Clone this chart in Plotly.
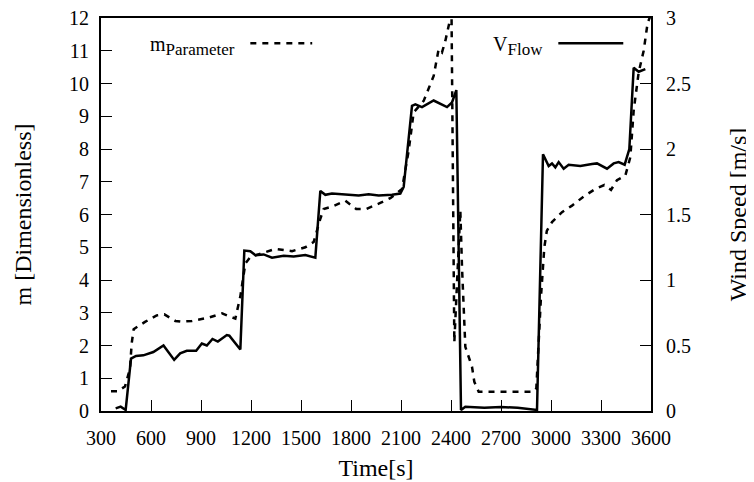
#
# m parameter and flow speed over time
#
import plotly.graph_objects as go

# m_Parameter (left axis, dimensionless)
t_m = [360, 400, 444, 474, 484, 496, 564, 634, 680, 706, 746, 776, 846, 946, 1026, 1106,
       1136, 1166, 1196, 1346, 1446, 1526, 1576, 1616, 1636, 1686, 1766, 1831, 1892, 1966,
       2036, 2106, 2146, 2176, 2236, 2296, 2326, 2346, 2366, 2392, 2400, 2420, 2456, 2466,
       2476, 2486, 2526, 2540, 2566, 2894, 2912, 2940, 2960, 2975, 3006, 3066, 3126, 3196,
       3266, 3320, 3360, 3396, 3446, 3476, 3496, 3526, 3556, 3580, 3600]
m_param = [0.6, 0.6, 0.75, 1.3, 2.06, 2.5, 2.72, 2.92, 2.95, 2.87, 2.75, 2.73, 2.75, 2.85,
           2.98, 2.82, 3.5, 4.5, 4.7, 4.95, 4.88, 5.0, 5.16, 5.87, 6.17, 6.24, 6.42, 6.17,
           6.17, 6.33, 6.5, 6.78, 7.95, 9.12, 9.47, 10.23, 11.05, 10.95, 11.3, 11.9, 14.0,
           2.1, 6.12, 4.4, 2.87, 1.96, 1.35, 0.89, 0.59, 0.59, 0.69, 3.5, 5.0, 5.5, 5.77,
           6.07, 6.27, 6.55, 6.78, 6.9, 6.75, 7.05, 7.19, 7.75, 9.17, 10.34, 11.0, 11.86, 12.1]

# V_Flow (right axis, m/s)
t_v = [388, 418, 448, 480, 510, 554, 614, 675, 739, 775, 815, 871, 905, 935, 969, 1001,
       1055, 1070, 1136, 1160, 1196, 1226, 1276, 1326, 1396, 1456, 1526, 1586, 1616, 1646,
       1686, 1766, 1846, 1906, 1966, 2046, 2096, 2116, 2166, 2186, 2226, 2296, 2376, 2406,
       2432, 2460, 2486, 2600, 2700, 2800, 2916, 2952, 2986, 3006, 3026, 3046, 3076, 3106,
       3176, 3246, 3276, 3336, 3376, 3406, 3442, 3470, 3496, 3526, 3566]
v_flow = [0.02, 0.033, 0.008, 0.40, 0.42, 0.425, 0.45, 0.50, 0.39, 0.44, 0.46, 0.46, 0.515,
          0.50, 0.55, 0.53, 0.58, 0.575, 0.47, 1.225, 1.22, 1.19, 1.195, 1.17, 1.185, 1.18,
          1.19, 1.17, 1.68, 1.65, 1.66, 1.65, 1.645, 1.655, 1.645, 1.65, 1.66, 1.71, 2.33,
          2.34, 2.32, 2.37, 2.32, 2.355, 2.45, 0.008, 0.033, 0.025, 0.03, 0.025, 0.008, 1.96,
          1.87, 1.89, 1.86, 1.90, 1.85, 1.88, 1.87, 1.885, 1.89, 1.85, 1.89, 1.90, 1.88, 2.0,
          2.62, 2.59, 2.61]

x_ticks = [300, 600, 900, 1200, 1500, 1800, 2100, 2400, 2700, 3000, 3300, 3600]

font = "Liberation Serif, Times New Roman, Times, serif"

fig = go.Figure()
fig.add_trace(go.Scatter(x=t_m, y=m_param, mode="lines", yaxis="y",
                         line=dict(color="black", width=2.5, dash="6px,6px")))
fig.add_trace(go.Scatter(x=t_v, y=v_flow, mode="lines", yaxis="y2",
                         line=dict(color="black", width=2.5)))

axis_common = dict(showline=True, linecolor="black", linewidth=2, ticks="inside",
                   ticklen=11, tickwidth=1, tickcolor="black", showgrid=False,
                   zeroline=False, automargin=False, ticklabeloverflow="allow",
                   tickfont=dict(family=font, size=20, color="black"))

# page body adds an 8px margin, so the figure is 8px smaller on each side
fig.update_layout(
    width=746, height=474,
    margin=dict(l=93, r=103, t=10, b=71),
    paper_bgcolor="white", plot_bgcolor="white",
    showlegend=False,
    font=dict(family=font, size=20, color="black"),
    xaxis=dict(range=[300, 3600], tickvals=x_ticks, mirror=True, ticklabelstandoff=8,
               title=dict(text="Time[s]", standoff=11), **axis_common),
    yaxis=dict(range=[0, 12], dtick=1, ticklabelstandoff=6,
               title=dict(text="m [Dimensionless]", standoff=31), **axis_common),
    yaxis2=dict(range=[0, 3], dtick=0.5, overlaying="y", side="right", ticklabelstandoff=9,
                title=dict(text="Wind Speed [m/s]", standoff=39), **axis_common),
)

# key
sub = "<sub><span style='font-size:17px'>%s</span></sub>"
fig.add_annotation(x=0.248, y=0.93, xref="paper", yref="paper", xanchor="right",
                   yanchor="middle", showarrow=False, text="m" + sub % "Parameter",
                   font=dict(family=font, size=20))
fig.add_shape(type="line", xref="paper", yref="paper", x0=0.2715, x1=0.384, y0=0.936,
              y1=0.936, line=dict(color="black", width=2.5, dash="6px,6px"))
fig.add_annotation(x=0.808, y=0.93, xref="paper", yref="paper", xanchor="right",
                   yanchor="middle", showarrow=False, text="V" + sub % "Flow",
                   font=dict(family=font, size=20))
fig.add_shape(type="line", xref="paper", yref="paper", x0=0.8315, x1=0.9496, y0=0.936,
              y1=0.936, line=dict(color="black", width=2.5))

fig.write_html("out.html")
